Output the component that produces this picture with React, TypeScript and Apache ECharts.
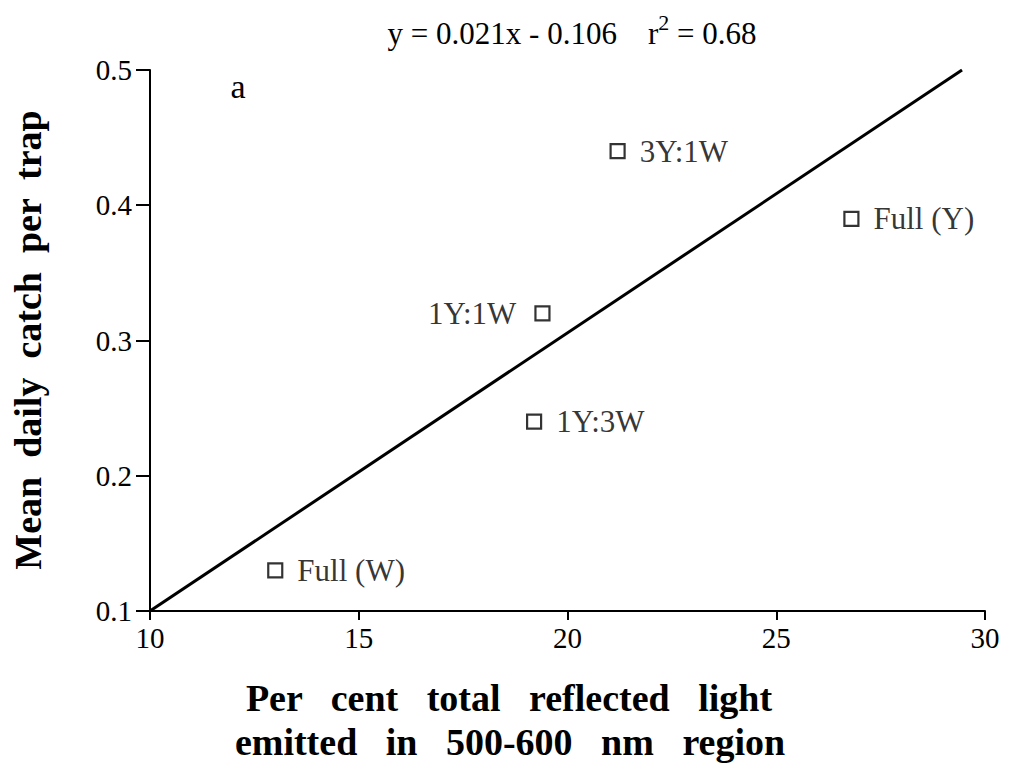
import React, { useEffect, useRef } from "react";
import * as echarts from "echarts";

const pointLabels = ["Full (W)", "1Y:3W", "1Y:1W", "3Y:1W", "Full (Y)"];
const xValues = [13.0, 19.2, 19.4, 21.2, 26.8];
const yValues = [0.13, 0.24, 0.32, 0.44, 0.39];
const labelSides = ["right", "right", "left", "right", "right"];
const fitLine = [
  [10, 0.1],
  [29.45, 0.5],
];
const xTicks = [10, 15, 20, 25, 30];
const yTicks = [0.1, 0.2, 0.3, 0.4, 0.5];

const FONT = "'Liberation Serif', 'Times New Roman', serif";

export default function App() {
  const ref = useRef<HTMLDivElement>(null);
  useEffect(() => {
    if (!ref.current) return;
    const chart = echarts.init(ref.current, undefined, { renderer: "svg" });
    chart.setOption({
      animation: false,
      backgroundColor: "#ffffff",
      grid: { left: 150, right: 24, top: 70, bottom: 165, containLabel: false },
      xAxis: {
        type: "value",
        min: xTicks[0],
        max: xTicks[xTicks.length - 1],
        interval: 5,
        axisLine: { show: true, lineStyle: { color: "#000", width: 2 } },
        axisTick: { show: true, length: 9, lineStyle: { color: "#000", width: 2 } },
        axisLabel: { color: "#000", fontFamily: FONT, fontSize: 29, margin: 12 },
        splitLine: { show: false },
      },
      yAxis: {
        type: "value",
        min: yTicks[0],
        max: yTicks[yTicks.length - 1],
        interval: 0.1,
        axisLine: { show: true, lineStyle: { color: "#000", width: 2 } },
        axisTick: { show: true, length: 14, lineStyle: { color: "#000", width: 2 } },
        axisLabel: {
          color: "#000",
          fontFamily: FONT,
          fontSize: 29,
          margin: 18,
          formatter: (v: number) => v.toFixed(1),
        },
        splitLine: { show: false },
      },
      series: [
        {
          type: "line",
          data: fitLine,
          symbol: "none",
          lineStyle: { color: "#000", width: 3 },
          z: 2,
        },
        {
          type: "scatter",
          data: xValues.map((x, i) => ({
            value: [x, yValues[i]],
            label: {
              show: true,
              formatter: pointLabels[i],
              position: labelSides[i],
              distance: labelSides[i] === "left" ? 18 : 14,
            },
          })),
          symbol: "rect",
          symbolSize: 14,
          itemStyle: { color: "#fff", borderColor: "#000", borderWidth: 2.2 },
          label: { color: "#000", fontFamily: FONT, fontSize: 31 },
          z: 3,
        },
      ],
      graphic: [
        {
          type: "text",
          x: 572,
          y: 30,
          style: {
            text: "{n|y = 0.021x - 0.106    r}{s|2}{n| = 0.68}",
            align: "center",
            verticalAlign: "middle",
            rich: {
              n: { fontFamily: FONT, fontSize: 31, fill: "#000", verticalAlign: "bottom" },
              s: { fontFamily: FONT, fontSize: 22, fill: "#000", verticalAlign: "top", padding: [0, 0, 15, 0] },
            },
          },
        },
        {
          type: "text",
          x: 238,
          y: 86,
          style: { text: "a", fontFamily: FONT, fontSize: 34, fill: "#000", align: "center", verticalAlign: "middle" },
        },
        {
          type: "text",
          x: 28,
          y: 340,
          rotation: Math.PI / 2,
          style: {
            text: "Mean  daily  catch  per  trap",
            fontFamily: FONT,
            fontSize: 38,
            fontWeight: "bold",
            fill: "#000",
            align: "center",
            verticalAlign: "middle",
          },
        },
        {
          type: "text",
          x: 509,
          y: 698,
          style: {
            text: "Per   cent   total   reflected   light",
            fontFamily: FONT,
            fontSize: 38,
            fontWeight: "bold",
            fill: "#000",
            align: "center",
            verticalAlign: "middle",
          },
        },
        {
          type: "text",
          x: 510,
          y: 742,
          style: {
            text: "emitted   in   500-600   nm   region",
            fontFamily: FONT,
            fontSize: 38,
            fontWeight: "bold",
            fill: "#000",
            align: "center",
            verticalAlign: "middle",
          },
        },
      ],
    });
    return () => chart.dispose();
  }, []);
  return <div ref={ref} style={{ width: 1009, height: 776, position: "absolute", left: 0, top: 0 }} />;
}
